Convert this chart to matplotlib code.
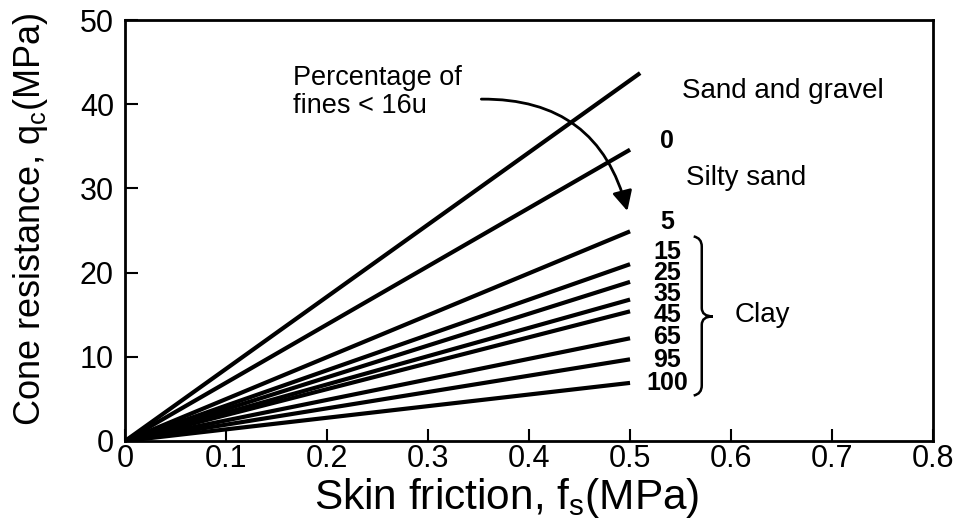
import numpy as np
import matplotlib
matplotlib.use("Agg")
import matplotlib.pyplot as plt
from matplotlib.path import Path
from matplotlib.patches import PathPatch

plt.rcParams['font.family'] = ['Liberation Sans', 'DejaVu Sans']
plt.rcParams['mathtext.fontset'] = 'custom'
plt.rcParams['mathtext.rm'] = 'Liberation Sans'
plt.rcParams['mathtext.it'] = 'Liberation Sans'

# data: boundary lines from origin to f_s end, q_c at end
x_end = [0.51, 0.5, 0.5, 0.5, 0.5, 0.5, 0.5, 0.5, 0.5, 0.5]
q_end = [43.7, 34.6, 24.9, 21.0, 18.9, 16.8, 15.4, 12.2, 9.7, 6.9]
fines_labels = ['0', '5', '15', '25', '35', '45', '65', '95', '100']
label_y = [35.6, 26.0, 22.5, 20.0, 17.4, 15.0, 12.4, 9.6, 6.9]
x_ticks = [0, 0.1, 0.2, 0.3, 0.4, 0.5, 0.6, 0.7, 0.8]
x_ticklabels = ['0', '0.1', '0.2', '0.3', '0.4', '0.5', '0.6', '0.7', '0.8']
y_ticks = [0, 10, 20, 30, 40, 50]

fig = plt.figure(figsize=(9.56, 5.27), dpi=100)
ax = fig.add_axes([0.1308, 0.1632, 0.976 - 0.1308, 0.962 - 0.1632])

for xe, qe in zip(x_end, q_end):
    ax.plot([0, xe], [0, qe], color='black', lw=3, solid_capstyle='butt')

ax.set_xlim(0, 0.8)
ax.set_ylim(0, 50)
ax.set_xticks(x_ticks)
ax.set_xticklabels(x_ticklabels)
ax.set_yticks(y_ticks)
ax.tick_params(direction='in', length=9, width=1.5, labelsize=22)
ax.tick_params(axis='x', pad=2)
ax.tick_params(axis='y', pad=8)
for s in ax.spines.values():
    s.set_linewidth(2)

ax.set_xlabel('Skin friction, f$_\\mathregular{s}$(MPa)', fontsize=30.5)
ax.set_ylabel('Cone resistance, q$_\\mathregular{c}$(MPa)', fontsize=26)
ax.xaxis.set_label_coords(0.472, -0.082)
ax.yaxis.set_label_coords(-0.093, 0.527)

# fines labels
for lab, ly in zip(fines_labels, label_y):
    ax.text(0.537, ly, lab, ha='center', va='center', fontsize=18, fontweight='bold')

ax.text(0.551, 41.6, 'Sand and gravel', fontsize=20, va='center')
ax.text(0.555, 31.2, 'Silty sand', fontsize=20, va='center')
ax.text(0.604, 15.0, 'Clay', fontsize=20, va='center')
ax.text(0.166, 41.4, 'Percentage of\nfines < 16u', fontsize=19.5, va='center',
        linespacing=1.1)

# curved arrow
ax.annotate('', xy=(0.498, 27.0), xytext=(0.35, 40.6),
            arrowprops=dict(arrowstyle='-|>', color='black', lw=2,
                            mutation_scale=30,
                            connectionstyle='arc3,rad=-0.4'))

# brace for clay
bx, bt, bm, bb, tip = 0.571, 24.3, 14.8, 5.4, 0.582
verts = [(0.563, bt), (bx, bt - 0.2), (bx, bt - 1.2),
         (bx, bm + 1.0),
         (bx, bm), (tip, bm),
         (bx, bm), (bx, bm - 1.0),
         (bx, bb + 1.2),
         (bx, bb + 0.2), (0.563, bb)]
codes = [Path.MOVETO, Path.CURVE3, Path.CURVE3,
         Path.LINETO,
         Path.CURVE3, Path.CURVE3,
         Path.CURVE3, Path.CURVE3,
         Path.LINETO,
         Path.CURVE3, Path.CURVE3]
ax.add_patch(PathPatch(Path(verts, codes), fill=False, lw=1.8, color='black'))

fig.savefig('out.png', dpi=100)
